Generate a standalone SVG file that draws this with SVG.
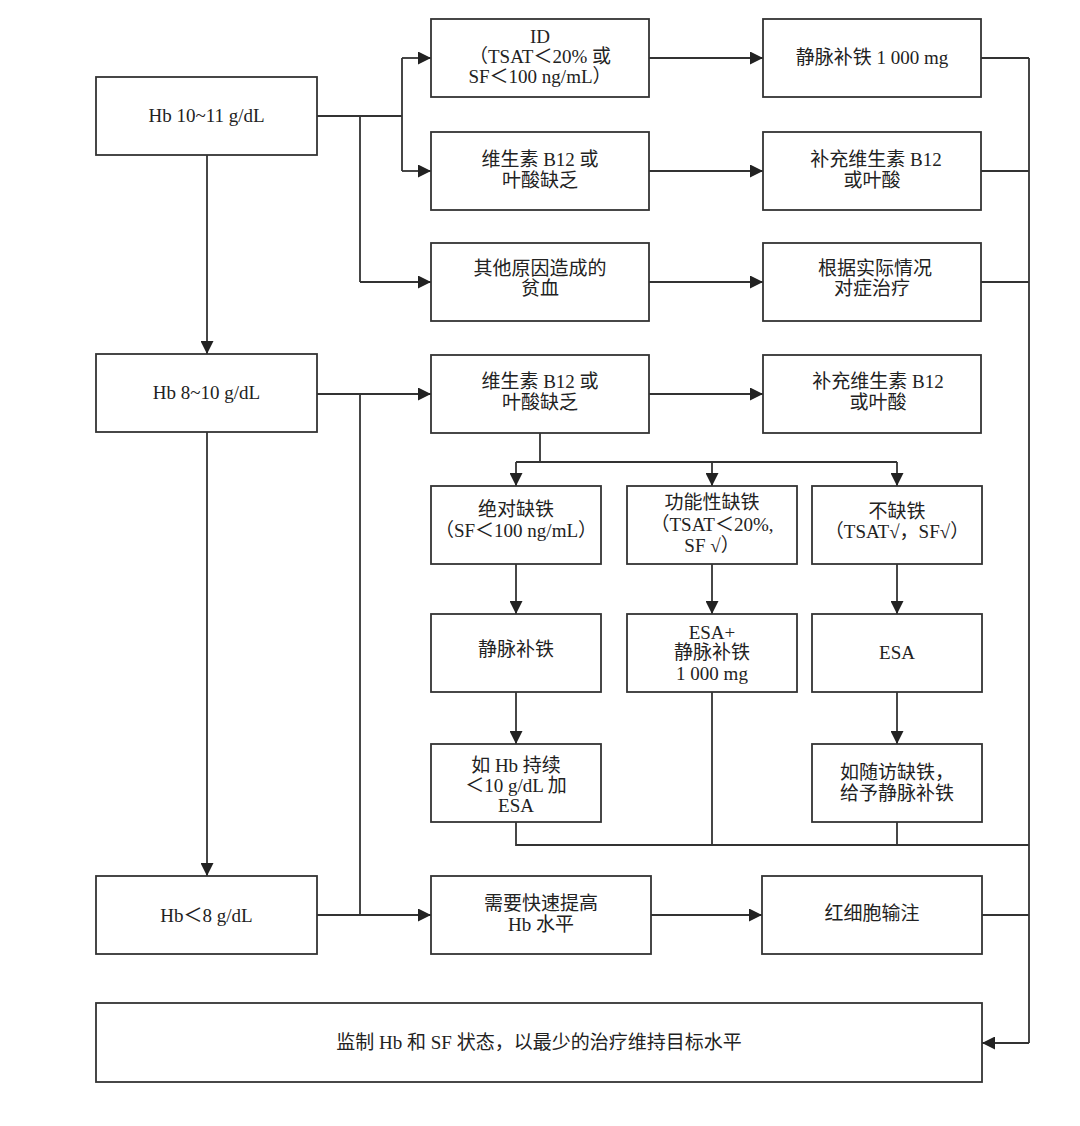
<svg xmlns="http://www.w3.org/2000/svg" width="1080" height="1126" viewBox="0 0 1080 1126">
<defs>
<marker id="arr" viewBox="0 0 12 12" refX="12" refY="6" markerWidth="13" markerHeight="13" markerUnits="userSpaceOnUse" orient="auto">
<path d="M0,0 L12,6 L0,12 Z" fill="#222"/>
</marker>
<style>
.box{fill:#fff;stroke:#333;stroke-width:1.8}
.ln{fill:none;stroke:#333;stroke-width:1.8}
.ar{fill:none;stroke:#333;stroke-width:1.8;marker-end:url(#arr)}
text{font-family:"Liberation Serif","Noto Sans CJK SC",serif;font-size:19px;fill:#222;text-anchor:middle}
</style>
</defs>
<rect width="1080" height="1126" fill="#fff"/>
<g id="connectors">
<path class="ln" d="M317,116 H402 M360,116 V282 M402,58 V171"/>
<path class="ar" d="M402,58 H431"/>
<path class="ar" d="M402,171 H431"/>
<path class="ar" d="M360,282 H431"/>
<path class="ar" d="M207,155 V354"/>
<path class="ar" d="M649,58 H763"/>
<path class="ar" d="M649,171 H763"/>
<path class="ar" d="M649,282 H763"/>
<path class="ln" d="M981,58 H1029 M981,171 H1029 M981,282 H1029 M1029,58 V1043"/>
<path class="ar" d="M1029,1043 H982"/>
<path class="ar" d="M317,394 H431"/>
<path class="ln" d="M360,394 V915"/>
<path class="ar" d="M207,432 V876"/>
<path class="ar" d="M649,394 H763"/>
<path class="ln" d="M540,433 V462 M516,462 H897"/>
<path class="ar" d="M516,462 V486"/>
<path class="ar" d="M712,462 V486"/>
<path class="ar" d="M897,462 V486"/>
<path class="ar" d="M516,564 V614"/>
<path class="ar" d="M712,564 V614"/>
<path class="ar" d="M897,564 V614"/>
<path class="ar" d="M516,692 V744"/>
<path class="ar" d="M897,692 V744"/>
<path class="ln" d="M516,822 V845 H1029 M712,692 V845 M897,822 V845"/>
<path class="ar" d="M317,915 H431"/>
<path class="ar" d="M651,915 H762"/>
<path class="ln" d="M982,915 H1029"/>
</g>
<g id="n_hb10"><rect class="box" x="96" y="77" width="221" height="78"/><text x="206.5" y="122">Hb 10~11 g/dL</text></g>
<g id="n_id"><rect class="box" x="431" y="19" width="218" height="78"/><text x="540" y="43">ID</text><text x="540" y="63">（TSAT＜20% 或</text><text x="540" y="83">SF＜100 ng/mL）</text></g>
<g id="n_b12a"><rect class="box" x="431" y="132" width="218" height="78"/><text x="540" y="166">维生素 B12 或</text><text x="540" y="187">叶酸缺乏</text></g>
<g id="n_other"><rect class="box" x="431" y="243" width="218" height="78"/><text x="540" y="275">其他原因造成的</text><text x="540" y="295">贫血</text></g>
<g id="n_iv1000"><rect class="box" x="763" y="19" width="218" height="78"/><text x="872" y="64">静脉补铁 1 000 mg</text></g>
<g id="n_supp1"><rect class="box" x="763" y="132" width="218" height="78"/><text x="876" y="166">补充维生素 B12</text><text x="872" y="187">或叶酸</text></g>
<g id="n_symp"><rect class="box" x="763" y="243" width="218" height="78"/><text x="875" y="275">根据实际情况</text><text x="872" y="295">对症治疗</text></g>
<g id="n_hb8"><rect class="box" x="96" y="354" width="221" height="78"/><text x="206.5" y="399">Hb 8~10 g/dL</text></g>
<g id="n_b12b"><rect class="box" x="431" y="355" width="218" height="78"/><text x="540" y="388">维生素 B12 或</text><text x="540" y="409">叶酸缺乏</text></g>
<g id="n_supp2"><rect class="box" x="763" y="355" width="218" height="78"/><text x="878" y="388">补充维生素 B12</text><text x="878" y="409">或叶酸</text></g>
<g id="n_abs"><rect class="box" x="431" y="486" width="170" height="78"/><text x="516" y="516">绝对缺铁</text><text x="516" y="537">（SF＜100 ng/mL）</text></g>
<g id="n_func"><rect class="box" x="627" y="486" width="170" height="78"/><text x="712" y="509">功能性缺铁</text><text x="712" y="531">（TSAT＜20%,</text><text x="712" y="552">SF √）</text></g>
<g id="n_none"><rect class="box" x="812" y="486" width="170" height="78"/><text x="897" y="518">不缺铁</text><text x="897" y="538">（TSAT√，SF√）</text></g>
<g id="n_iv"><rect class="box" x="431" y="614" width="170" height="78"/><text x="516" y="656">静脉补铁</text></g>
<g id="n_esaiv"><rect class="box" x="627" y="614" width="170" height="78"/><text x="712" y="639">ESA+</text><text x="712" y="659">静脉补铁</text><text x="712" y="680">1 000 mg</text></g>
<g id="n_esa"><rect class="box" x="812" y="614" width="170" height="78"/><text x="897" y="659">ESA</text></g>
<g id="n_ifhb"><rect class="box" x="431" y="744" width="170" height="78"/><text x="516" y="772">如 Hb 持续</text><text x="516" y="792">＜10 g/dL 加</text><text x="516" y="812">ESA</text></g>
<g id="n_follow"><rect class="box" x="812" y="744" width="170" height="78"/><text x="897" y="779">如随访缺铁，</text><text x="897" y="800">给予静脉补铁</text></g>
<g id="n_hblt8"><rect class="box" x="96" y="876" width="221" height="78"/><text x="206.5" y="922">Hb＜8 g/dL</text></g>
<g id="n_rapid"><rect class="box" x="431" y="876" width="220" height="78"/><text x="541" y="910">需要快速提高</text><text x="541" y="931">Hb 水平</text></g>
<g id="n_rbc"><rect class="box" x="762" y="876" width="220" height="78"/><text x="872" y="920">红细胞输注</text></g>
<g id="n_monitor"><rect class="box" x="96" y="1003" width="886" height="79"/><text x="539" y="1049">监制 Hb 和 SF 状态，以最少的治疗维持目标水平</text></g>
</svg>
